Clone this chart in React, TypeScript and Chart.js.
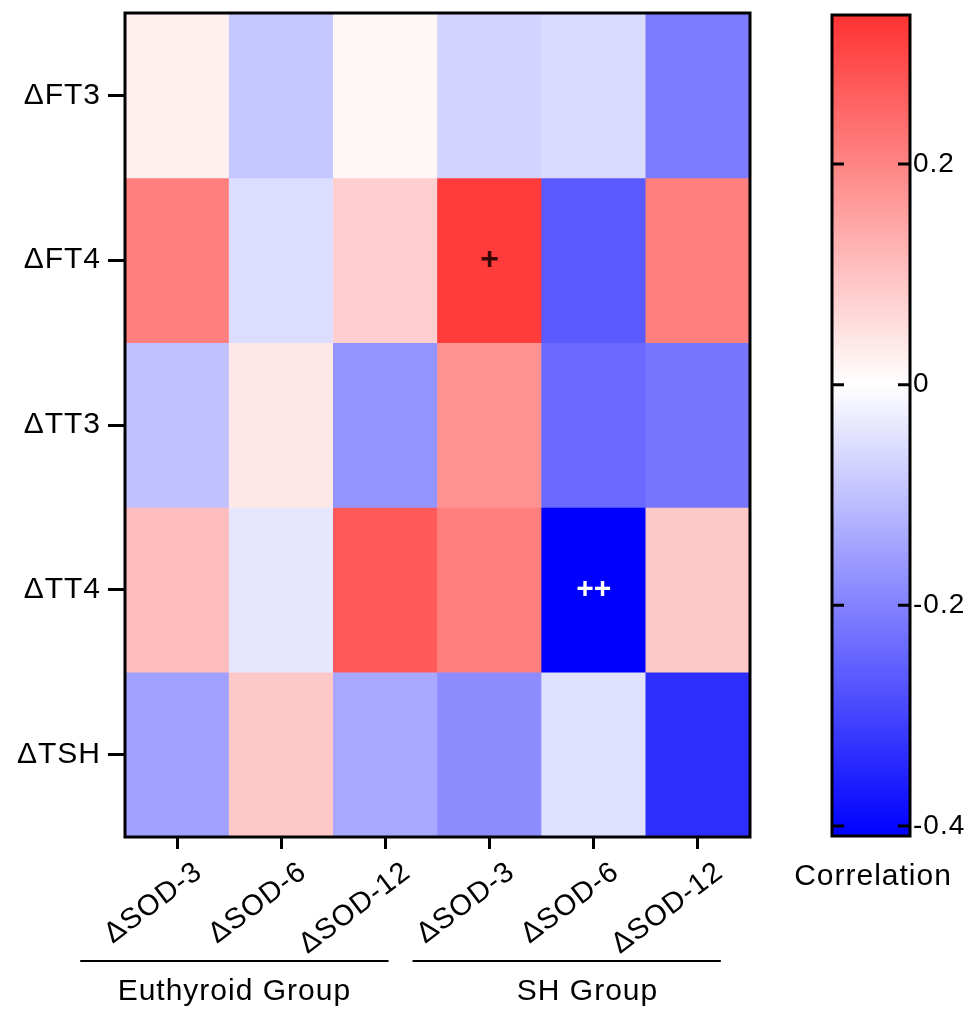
import React, { useEffect, useRef } from 'react';
import { Chart, registerables } from 'chart.js';

Chart.register(...registerables);

// ---------- data ----------
const columnLabels = ['ΔSOD-3', 'ΔSOD-6', 'ΔSOD-12', 'ΔSOD-3', 'ΔSOD-6', 'ΔSOD-12'];
const rowLabels = ['ΔFT3', 'ΔFT4', 'ΔTT3', 'ΔTT4', 'ΔTSH'];
const rowFT3 = [0.025, -0.09, 0.015, -0.07, -0.06, -0.21];
const rowFT4 = [0.21, -0.055, 0.08, 0.32, -0.265, 0.21];
const rowTT3 = [-0.1, 0.04, -0.17, 0.18, -0.24, -0.22];
const rowTT4 = [0.11, -0.04, 0.27, 0.21, -0.41, 0.09];
const rowTSH = [-0.15, 0.09, -0.14, -0.185, -0.05, -0.335];
const rowValues = [rowFT3, rowFT4, rowTT3, rowTT4, rowTSH];
const groupLabels = ['Euthyroid Group', 'SH Group'];
const groupFrom = [0, 3];
const groupTo = [2, 5];
const markerRows = [1, 3];
const markerCols = [3, 4];
const markerTexts = ['+', '++'];
const colorMin = -0.409;
const colorMax = 0.335;
const colorTicks = [-0.4, -0.2, 0, 0.2];
const colorTitle = 'Correlation';

// ---------- styles ----------
const FONT = '"Liberation Sans", Arial, Helvetica, sans-serif';
const LETTER_SPACING = '1px';

function cellColor(v: number): string {
  if (v >= 0) {
    const t = Math.min(1, v / colorMax);
    const c = Math.round(255 - 205 * t);
    return `rgb(255,${c},${c})`;
  }
  const t = Math.min(1, v / colorMin);
  const c = Math.round(255 * (1 - t));
  return `rgb(${c},${c},255)`;
}

function setSpacing(chart: any) {
  try { chart.ctx.letterSpacing = LETTER_SPACING; } catch (e) {}
}

const spacingPlugin = {
  id: 'spacing',
  beforeInit: setSpacing,
  beforeUpdate: setSpacing,
  beforeLayout: setSpacing,
  beforeDraw: setSpacing,
};

function noScalePadding(s: any) {
  s.paddingTop = 0;
  s.paddingBottom = 0;
  s.paddingLeft = 0;
  s.paddingRight = 0;
}

const heatFramePlugin = {
  id: 'heatFrame',
  afterDatasetsDraw(chart: any) {
    const { ctx, chartArea, scales } = chart;
    const x = scales.x;
    const y = scales.y;
    ctx.save();
    ctx.textAlign = 'center';
    ctx.textBaseline = 'middle';
    try { ctx.letterSpacing = '0px'; } catch (e) {}
    for (let i = 0; i < markerTexts.length; i++) {
      const px = x.getPixelForValue(markerCols[i]);
      const py = y.getPixelForValue(markerRows[i] + 0.5);
      const val = rowValues[markerRows[i]][markerCols[i]];
      if (val > 0) {
        ctx.fillStyle = '#3a0505';
        ctx.font = `bold 32px ${FONT}`;
      } else {
        ctx.fillStyle = '#ffffff';
        ctx.font = `bold 30px ${FONT}`;
      }
      ctx.fillText(markerTexts[i], px, py);
    }
    ctx.restore();
    ctx.save();
    ctx.strokeStyle = '#000';
    ctx.lineWidth = 3;
    ctx.strokeRect(chartArea.left, chartArea.top, chartArea.right - chartArea.left, chartArea.bottom - chartArea.top);
    ctx.restore();
  },
  afterDraw(chart: any) {
    const { ctx, scales } = chart;
    const x = scales.x;
    const w = x.getPixelForValue(1) - x.getPixelForValue(0);
    const lineStart = [-0.93, -0.74];
    const lineEnd = [0.03, 0.22];
    const labelShift = [-0.45, -0.06];
    ctx.save();
    ctx.strokeStyle = '#000';
    ctx.lineWidth = 2;
    ctx.fillStyle = '#000';
    ctx.font = `30px ${FONT}`;
    ctx.textAlign = 'center';
    ctx.textBaseline = 'middle';
    for (let g = 0; g < groupLabels.length; g++) {
      const x0 = x.getPixelForValue(groupFrom[g]) + lineStart[g] * w;
      const x1 = x.getPixelForValue(groupTo[g]) + lineEnd[g] * w;
      ctx.beginPath();
      ctx.moveTo(x0, 961);
      ctx.lineTo(x1, 961);
      ctx.stroke();
      const mid = x.getPixelForValue((groupFrom[g] + groupTo[g]) / 2) + labelShift[g] * w;
      ctx.fillText(groupLabels[g], mid, 992);
    }
    ctx.restore();
  },
};

const colorBarPlugin = {
  id: 'colorBarFrame',
  afterDatasetsDraw(chart: any) {
    const { ctx, chartArea, scales } = chart;
    const y = scales.y;
    ctx.save();
    ctx.strokeStyle = '#000';
    ctx.lineWidth = 3;
    for (const v of colorTicks) {
      const py = y.getPixelForValue(v);
      ctx.beginPath();
      ctx.moveTo(chartArea.left, py);
      ctx.lineTo(chartArea.left + 12, py);
      ctx.moveTo(chartArea.right - 12, py);
      ctx.lineTo(chartArea.right, py);
      ctx.stroke();
    }
    ctx.strokeRect(chartArea.left, chartArea.top, chartArea.right - chartArea.left, chartArea.bottom - chartArea.top);
    ctx.restore();
  },
  afterDraw(chart: any) {
    const { ctx, chartArea } = chart;
    ctx.save();
    ctx.fillStyle = '#000';
    ctx.font = `30px ${FONT}`;
    ctx.textAlign = 'center';
    ctx.textBaseline = 'middle';
    ctx.fillText(colorTitle, (chartArea.left + chartArea.right) / 2 + 2, 877);
    ctx.restore();
  },
};

function gradientFill(context: any) {
  const chart = context.chart;
  const { ctx, chartArea, scales } = chart;
  if (!chartArea || !scales.y) return '#ffffff';
  const y = scales.y;
  const yBottom = y.getPixelForValue(colorMin);
  const yTop = y.getPixelForValue(colorMax);
  const grad = ctx.createLinearGradient(0, yBottom, 0, yTop);
  const steps = 20;
  for (let i = 0; i <= steps; i++) {
    const v = colorMin + ((colorMax - colorMin) * i) / steps;
    grad.addColorStop(i / steps, cellColor(v));
  }
  return grad;
}

export default function App() {
  const heatRef = useRef<HTMLCanvasElement | null>(null);
  const barRef = useRef<HTMLCanvasElement | null>(null);

  useEffect(() => {
    if (!heatRef.current || !barRef.current) return;

    const datasets = rowValues.map((vals, r) => ({
      label: rowLabels[r],
      data: vals.map(() => [r, r + 1]),
      backgroundColor: vals.map(cellColor),
      borderWidth: 0,
      barPercentage: 1,
      categoryPercentage: 1,
      grouped: false,
    }));

    const heat = new Chart(heatRef.current, {
      type: 'bar',
      data: { labels: columnLabels, datasets: datasets as any },
      options: {
        animation: false,
        responsive: false,
        maintainAspectRatio: false,
        layout: { padding: { top: 13, right: 30, left: 0, bottom: 0 } },
        plugins: { legend: { display: false }, tooltip: { enabled: false } },
        scales: {
          x: {
            type: 'category',
            offset: true,
            grid: {
              display: true,
              drawOnChartArea: false,
              drawTicks: true,
              tickLength: 12,
              tickWidth: 3,
              tickColor: '#000',
              offset: false,
            },
            border: { display: false },
            ticks: {
              autoSkip: false,
              maxRotation: 37,
              minRotation: 37,
              color: '#000',
              font: { family: FONT, size: 29 },
              padding: 6,
              labelOffset: 22,
            },
            afterFit: (s: any) => { s.height = 172; noScalePadding(s); },
          },
          y: {
            type: 'linear',
            min: 0,
            max: 5,
            reverse: true,
            afterBuildTicks: (s: any) => {
              s.ticks = rowLabels.map((_, i) => ({ value: i + 0.5 }));
            },
            ticks: {
              callback: (v: any) => rowLabels[Math.floor(Number(v))],
              color: '#000',
              font: { family: FONT, size: 30 },
              padding: 7,
            },
            grid: {
              display: true,
              drawOnChartArea: false,
              drawTicks: true,
              tickLength: 17,
              tickWidth: 3,
              tickColor: '#000',
            },
            border: { display: false },
            afterFit: (s: any) => { s.width = 125; noScalePadding(s); },
          },
        },
      } as any,
      plugins: [spacingPlugin, heatFramePlugin],
    });

    const bar = new Chart(barRef.current, {
      type: 'bar',
      data: {
        labels: [''],
        datasets: [
          {
            label: colorTitle,
            data: [[colorMin, colorMax]] as any,
            backgroundColor: gradientFill as any,
            borderWidth: 0,
            barPercentage: 1,
            categoryPercentage: 1,
          },
        ],
      },
      options: {
        animation: false,
        responsive: false,
        maintainAspectRatio: false,
        layout: { padding: { top: 15, left: 52, right: 0, bottom: 173 } },
        plugins: { legend: { display: false }, tooltip: { enabled: false } },
        scales: {
          x: {
            type: 'category',
            offset: true,
            display: false,
          },
          y: {
            type: 'linear',
            position: 'right',
            min: colorMin,
            max: colorMax,
            afterBuildTicks: (s: any) => {
              s.ticks = colorTicks.map((v) => ({ value: v }));
            },
            ticks: {
              color: '#000',
              font: { family: FONT, size: 28 },
              padding: 3,
              callback: (v: any) => String(Math.round(Number(v) * 10) / 10),
            },
            grid: { display: false, drawTicks: false },
            border: { display: false },
            afterFit: (s: any) => { s.width = 64; noScalePadding(s); },
          },
        },
      } as any,
      plugins: [spacingPlugin, colorBarPlugin],
    });

    return () => {
      heat.destroy();
      bar.destroy();
    };
  }, []);

  return (
    <div style={{ position: 'absolute', left: 0, top: 0, width: 974, height: 1009, background: '#fff' }}>
      <canvas
        ref={heatRef}
        width={780}
        height={1009}
        style={{ position: 'absolute', left: 0, top: 0, width: 780, height: 1009, display: 'block' }}
      />
      <canvas
        ref={barRef}
        width={194}
        height={1009}
        style={{ position: 'absolute', left: 780, top: 0, width: 194, height: 1009, display: 'block' }}
      />
    </div>
  );
}
